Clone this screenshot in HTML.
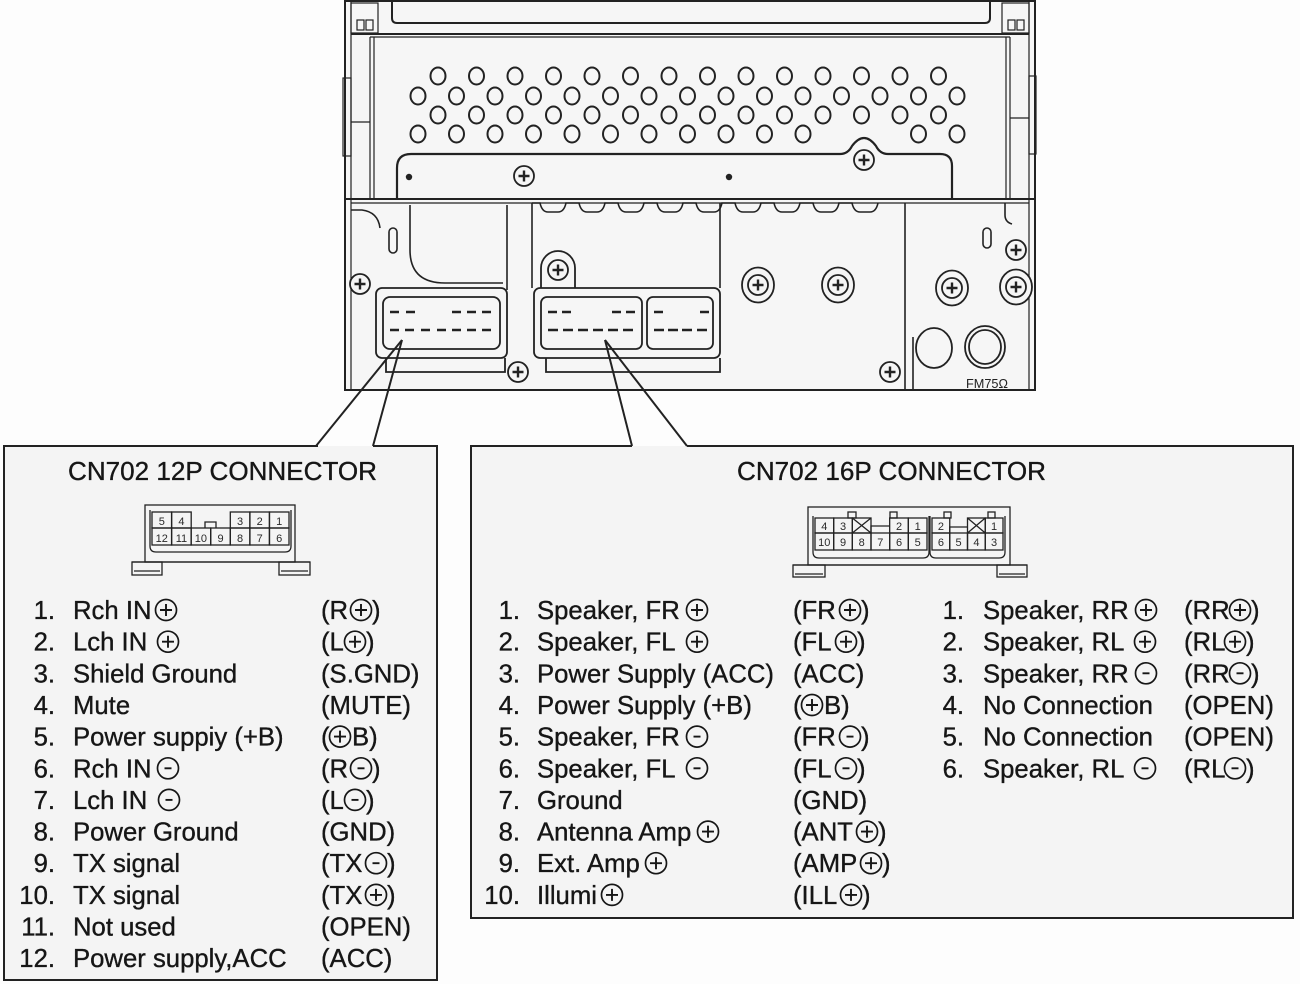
<!DOCTYPE html>
<html><head><meta charset="utf-8"><style>
html,body{margin:0;padding:0;background:#fdfdfd;}
svg{display:block;}
.t{font-family:"Liberation Sans",Arial,sans-serif;font-size:25.7px;fill:#161616;stroke:#161616;stroke-width:0.35px;}
.n{font-family:"Liberation Sans",Arial,sans-serif;font-size:11px;fill:#2a2a2a;text-anchor:middle;}
.k{stroke:#222;fill:none;}
</style></head><body>
<svg width="1300" height="984" viewBox="0 0 1300 984" xmlns="http://www.w3.org/2000/svg">
<defs>
<g id="s1"><circle r="10" fill="#f5f5f5" stroke="#222" stroke-width="1.8"/><path d="M-5.5 0H5.5M0 -5.5V5.5" stroke="#222" stroke-width="2.4"/></g>
<g id="s2"><ellipse rx="16" ry="17.5" fill="#f5f5f5" stroke="#222" stroke-width="1.8"/><use href="#s1"/></g>
<ellipse id="h" rx="7.5" ry="8.5" fill="none" stroke="#222" stroke-width="2"/>
<g id="cp"><circle r="10.5" fill="none" stroke="#161616" stroke-width="1.7"/><path d="M-6 0H6M0 -6V6" stroke="#161616" stroke-width="1.9"/></g>
<g id="cm"><circle r="10.5" fill="none" stroke="#161616" stroke-width="1.7"/><path d="M-3.5 0H3.5" stroke="#161616" stroke-width="1.9"/></g>
</defs>

<!-- ===== HEAD UNIT ===== -->
<rect x="345" y="0" width="690" height="390" fill="#f6f6f6"/>
<g class="k" stroke-width="2">
<line x1="345" y1="0" x2="345" y2="391"/>
<line x1="1035" y1="0" x2="1035" y2="391"/>
<line x1="345" y1="390" x2="1035" y2="390"/>
<line x1="345" y1="1" x2="1035" y2="1"/>
<path d="M392 1V18Q392 23 397 23H985Q990 23 990 18V1"/>
<line x1="351" y1="34" x2="1029" y2="34"/>
<line x1="345" y1="199" x2="1035" y2="199"/>
</g>
<g class="k" stroke-width="1.2">
<line x1="351" y1="0" x2="351" y2="390"/>
<line x1="1029" y1="0" x2="1029" y2="390"/>
<rect x="351" y="3" width="27" height="30"/>
<rect x="1002" y="3" width="27" height="30"/>
<rect x="357" y="20" width="7" height="10"/><rect x="366" y="20" width="7" height="10"/>
<rect x="1008" y="20" width="7" height="10"/><rect x="1017" y="20" width="7" height="10"/>
<line x1="370" y1="37" x2="1010" y2="37"/>
<line x1="370" y1="37" x2="370" y2="198"/><line x1="374" y1="37" x2="374" y2="198"/>
<line x1="1010" y1="37" x2="1010" y2="198"/><line x1="1006" y1="37" x2="1006" y2="198"/>
<rect x="343" y="78" width="8" height="78"/>
<line x1="351" y1="122" x2="370" y2="122"/>
<rect x="1029" y="76" width="7" height="78"/>
<line x1="1010" y1="118" x2="1029" y2="118"/>
<line x1="351" y1="203" x2="1029" y2="203"/>
</g>

<!-- holes -->
<g>
<use href="#h" x="438" y="76"/><use href="#h" x="476.5" y="76"/><use href="#h" x="515" y="76"/><use href="#h" x="553.5" y="76"/><use href="#h" x="592" y="76"/><use href="#h" x="630.5" y="76"/><use href="#h" x="669" y="76"/><use href="#h" x="707.5" y="76"/><use href="#h" x="746" y="76"/><use href="#h" x="784.5" y="76"/><use href="#h" x="823" y="76"/><use href="#h" x="861.5" y="76"/><use href="#h" x="900" y="76"/><use href="#h" x="938.5" y="76"/>
<use href="#h" x="418" y="96"/><use href="#h" x="456.5" y="96"/><use href="#h" x="495" y="96"/><use href="#h" x="533.5" y="96"/><use href="#h" x="572" y="96"/><use href="#h" x="610.5" y="96"/><use href="#h" x="649" y="96"/><use href="#h" x="687.5" y="96"/><use href="#h" x="726" y="96"/><use href="#h" x="764.5" y="96"/><use href="#h" x="803" y="96"/><use href="#h" x="841.5" y="96"/><use href="#h" x="880" y="96"/><use href="#h" x="918.5" y="96"/><use href="#h" x="957" y="96"/>
<use href="#h" x="438" y="115"/><use href="#h" x="476.5" y="115"/><use href="#h" x="515" y="115"/><use href="#h" x="553.5" y="115"/><use href="#h" x="592" y="115"/><use href="#h" x="630.5" y="115"/><use href="#h" x="669" y="115"/><use href="#h" x="707.5" y="115"/><use href="#h" x="746" y="115"/><use href="#h" x="784.5" y="115"/><use href="#h" x="823" y="115"/><use href="#h" x="861.5" y="115"/><use href="#h" x="900" y="115"/><use href="#h" x="938.5" y="115"/>
<use href="#h" x="418" y="134"/><use href="#h" x="456.5" y="134"/><use href="#h" x="495" y="134"/><use href="#h" x="533.5" y="134"/><use href="#h" x="572" y="134"/><use href="#h" x="610.5" y="134"/><use href="#h" x="649" y="134"/><use href="#h" x="687.5" y="134"/><use href="#h" x="726" y="134"/><use href="#h" x="764.5" y="134"/><use href="#h" x="803" y="134"/><use href="#h" x="918.5" y="134"/><use href="#h" x="957" y="134"/>
</g>

<!-- plate -->
<path class="k" stroke-width="2.2" d="M397 198V168Q397 154 411 154H840Q848 154 852 146Q864 130 876 146Q880 154 888 154H940Q952 154 952 166V198"/>
<use href="#s1" x="524" y="176"/>
<use href="#s1" x="864" y="160"/>
<circle cx="409" cy="177" r="3.2" fill="#222"/>
<circle cx="729" cy="177" r="3.2" fill="#222"/>

<!-- lower section -->
<path class="k" stroke-width="1.6" d="M532 203H540Q542 212 548 212H558Q564 212 566 203H579Q581 212 587 212H597Q603 212 605 203H618Q620 212 626 212H636Q642 212 644 203H657Q659 212 665 212H675Q681 212 683 203H696Q698 212 704 212H714Q720 212 722 203H735Q737 212 743 212H753Q759 212 761 203H774Q776 212 782 212H792Q798 212 800 203H813Q815 212 821 212H831Q837 212 839 203H852Q854 212 860 212H870Q876 212 878 203"/>
<g class="k" stroke-width="1.6">
<line x1="507" y1="205" x2="507" y2="290"/>
<line x1="532" y1="203" x2="532" y2="288"/>
<line x1="720" y1="203" x2="720" y2="288"/>
<line x1="905" y1="203" x2="905" y2="390"/>
<line x1="913" y1="337" x2="913" y2="390"/>
<path d="M1005 203V215Q1005 222 1012 224"/>
<path d="M410 205V250Q410 283 445 283H503"/>
<path d="M351 210H362Q378 212 380 228"/>
<rect x="389" y="228" width="8" height="25" rx="4"/>
<rect x="983" y="228" width="8" height="20" rx="4"/>
</g>
<use href="#s1" x="360" y="284"/>

<!-- left connector -->
<g class="k" stroke-width="1.8">
<path d="M386 358V372H505V358"/>
<rect x="376" y="288" width="131" height="70" rx="6" fill="#f6f6f6"/>
<rect x="383" y="297" width="117" height="52" rx="7"/>
</g>
<g stroke="#222" stroke-width="2.6">
<path d="M390 312h9M406 312h9M452 312h9M467 312h9M482 312h9"/>
<path d="M390 330h9M405 330h9M421 330h9M437 330h9M452 330h9M467 330h9M482 330h9"/>
</g>
<use href="#s1" x="518" y="372"/>

<!-- middle connector -->
<path class="k" stroke-width="1.8" d="M541 288V268A17 17 0 0 1 575 268V288"/>
<use href="#s1" x="558" y="270"/>
<g class="k" stroke-width="1.8">
<path d="M546 358V372H720V358"/>
<rect x="534" y="288" width="186" height="70" rx="6" fill="#f6f6f6"/>
<rect x="541" y="297" width="101" height="52" rx="6"/>
<rect x="647" y="297" width="66" height="52" rx="6"/>
</g>
<g stroke="#222" stroke-width="2.6">
<path d="M548 312h9M562 312h9M612 312h9M626 312h9M654 312h9M700 312h9"/>
<path d="M548 330h10M563 330h10M578 330h10M593 330h10M608 330h10M623 330h10M654 330h10M668 330h10M682 330h10M697 330h10"/>
</g>

<use href="#s2" x="758" y="285"/>
<use href="#s2" x="838" y="285"/>
<use href="#s2" x="952" y="288"/>
<use href="#s1" x="1016" y="250"/>
<use href="#s2" x="1016" y="287"/>
<use href="#s1" x="890" y="372"/>
<g class="k" stroke-width="1.8">
<ellipse cx="934" cy="348" rx="18" ry="20"/>
<ellipse cx="985" cy="347" rx="20" ry="21"/>
<ellipse cx="985" cy="347" rx="16" ry="17"/>
</g>
<text x="966" y="388" font-family="Liberation Sans, Arial, sans-serif" font-size="13" fill="#222" textLength="42" lengthAdjust="spacingAndGlyphs">FM75Ω</text>

<!-- ===== BOXES ===== -->
<rect x="4" y="446" width="433" height="534" fill="#f4f4f4"/>
<rect x="471" y="446" width="822" height="472" fill="#f4f4f4"/>
<g class="k" stroke-width="2">
<path d="M318 446H4V980H437V446H373"/>
<line x1="316" y1="446" x2="402" y2="340"/>
<line x1="373" y1="446" x2="402" y2="340"/>
<path d="M632 446H471V918H1293V446H687"/>
<line x1="632" y1="446" x2="605" y2="340"/>
<line x1="687" y1="446" x2="605" y2="340"/>
</g>

<text class="t" x="68" y="480" font-size="26" textLength="309" lengthAdjust="spacingAndGlyphs">CN702 12P CONNECTOR</text>
<text class="t" x="737" y="480" font-size="26" textLength="309" lengthAdjust="spacingAndGlyphs">CN702 16P CONNECTOR</text>

<!-- 12P icon -->
<g class="k" stroke-width="1.3">
<rect x="145" y="505" width="150" height="57"/>
<line x1="132" y1="562" x2="310" y2="562"/>
<rect x="132" y="562" width="30" height="13"/><line x1="134" y1="571" x2="160" y2="571"/>
<rect x="279" y="562" width="31" height="13"/><line x1="281" y1="571" x2="308" y2="571"/>
<path d="M150 510V546Q150 552 156 552H285Q291 552 291 546V510"/>
<rect x="152" y="512" width="19.6" height="16"/><rect x="171.6" y="512" width="19.6" height="16"/>
<rect x="230.3" y="512" width="19.6" height="16"/><rect x="249.9" y="512" width="19.6" height="16"/><rect x="269.4" y="512" width="19.6" height="16"/>
<rect x="152" y="528" width="19.6" height="17"/><rect x="171.6" y="528" width="19.6" height="17"/><rect x="191.1" y="528" width="19.6" height="17"/><rect x="210.7" y="528" width="19.6" height="17"/><rect x="230.3" y="528" width="19.6" height="17"/><rect x="249.9" y="528" width="19.6" height="17"/><rect x="269.4" y="528" width="19.6" height="17"/>
<path d="M205 528V522H216V528"/>
</g>
<g class="n">
<text x="161.8" y="525">5</text><text x="181.4" y="525">4</text><text x="240.1" y="525">3</text><text x="259.7" y="525">2</text><text x="279.2" y="525">1</text>
<text x="161.8" y="542">12</text><text x="181.4" y="542">11</text><text x="200.9" y="542">10</text><text x="220.5" y="542">9</text><text x="240.1" y="542">8</text><text x="259.7" y="542">7</text><text x="279.2" y="542">6</text>
</g>

<!-- 16P icon -->
<g class="k" stroke-width="1.3">
<rect x="808" y="507" width="202" height="58"/>
<line x1="793" y1="565" x2="1027" y2="565"/>
<rect x="793" y="565" width="32" height="12"/><line x1="795" y1="574" x2="823" y2="574"/>
<rect x="997" y="565" width="30" height="12"/><line x1="999" y1="574" x2="1025" y2="574"/>
<path d="M813 516V552Q813 558 819 558H923Q929 558 929 552V516"/>
<path d="M930 516V552Q930 558 936 558H999Q1005 558 1005 552V516"/>
<rect x="815" y="518" width="18.67" height="15"/><rect x="833.67" y="518" width="18.67" height="15"/><rect x="852.33" y="518" width="18.67" height="15"/>
<rect x="889.67" y="518" width="18.67" height="15"/><rect x="908.33" y="518" width="18.67" height="15"/>
<path d="M871 533V526H889.67"/>
<rect x="815" y="533" width="18.67" height="17"/><rect x="833.67" y="533" width="18.67" height="17"/><rect x="852.33" y="533" width="18.67" height="17"/><rect x="871" y="533" width="18.67" height="17"/><rect x="889.67" y="533" width="18.67" height="17"/><rect x="908.33" y="533" width="18.67" height="17"/>
<path d="M852.33 518L871 533M871 518L852.33 533"/>
<rect x="932" y="518" width="17.75" height="15"/><rect x="967.5" y="518" width="17.75" height="15"/><rect x="985.25" y="518" width="17.75" height="15"/>
<path d="M949.75 533V527H967.5"/>
<path d="M967.5 518L985.25 533M985.25 518L967.5 533"/>
<rect x="932" y="533" width="17.75" height="17"/><rect x="949.75" y="533" width="17.75" height="17"/><rect x="967.5" y="533" width="17.75" height="17"/><rect x="985.25" y="533" width="17.75" height="17"/>
<rect x="848" y="512" width="8" height="6"/><rect x="890" y="512" width="7" height="6"/><rect x="944" y="512" width="7" height="6"/><rect x="988" y="512" width="7" height="6"/>
</g>
<g class="n">
<text x="824.3" y="530">4</text><text x="843" y="530">3</text><text x="899" y="530">2</text><text x="917.7" y="530">1</text>
<text x="824.3" y="546">10</text><text x="843" y="546">9</text><text x="861.7" y="546">8</text><text x="880.3" y="546">7</text><text x="899" y="546">6</text><text x="917.7" y="546">5</text>
<text x="940.9" y="530">2</text><text x="994.1" y="530">1</text>
<text x="940.9" y="546">6</text><text x="958.6" y="546">5</text><text x="976.4" y="546">4</text><text x="994.1" y="546">3</text>
</g>

<!-- ===== LEFT LIST ===== -->
<g class="t" text-anchor="end">
<text x="55" y="619">1.</text><text x="55" y="650.7">2.</text><text x="55" y="682.3">3.</text><text x="55" y="714">4.</text><text x="55" y="745.6">5.</text><text x="55" y="777.3">6.</text><text x="55" y="808.9">7.</text><text x="55" y="840.6">8.</text><text x="55" y="872.2">9.</text><text x="55" y="903.9">10.</text><text x="55" y="935.5">11.</text><text x="55" y="967.2">12.</text>
</g>
<g class="t">
<text x="73" y="619">Rch IN</text>
<text x="73" y="650.7">Lch IN</text>
<text x="73" y="682.3">Shield Ground</text>
<text x="73" y="714">Mute</text>
<text x="73" y="745.6">Power suppiy (+B)</text>
<text x="73" y="777.3">Rch IN</text>
<text x="73" y="808.9">Lch IN</text>
<text x="73" y="840.6">Power Ground</text>
<text x="73" y="872.2">TX signal</text>
<text x="73" y="903.9">TX signal</text>
<text x="73" y="935.5">Not used</text>
<text x="73" y="967.2">Power supply,ACC</text>

<text x="321" y="619">(R</text><text x="372" y="619">)</text>
<text x="321" y="650.7">(L</text><text x="366" y="650.7">)</text>
<text x="321" y="682.3">(S.GND)</text>
<text x="321" y="714">(MUTE)</text>
<text x="321" y="745.6">(</text><text x="352" y="745.6">B)</text>
<text x="321" y="777.3">(R</text><text x="372" y="777.3">)</text>
<text x="321" y="808.9">(L</text><text x="366" y="808.9">)</text>
<text x="321" y="840.6">(GND)</text>
<text x="321" y="872.2">(TX</text><text x="387" y="872.2">)</text>
<text x="321" y="903.9">(TX</text><text x="387" y="903.9">)</text>
<text x="321" y="935.5">(OPEN)</text>
<text x="321" y="967.2">(ACC)</text>
</g>
<use href="#cp" x="166" y="610"/><use href="#cp" x="361" y="610"/>
<use href="#cp" x="168" y="641.7"/><use href="#cp" x="355" y="641.7"/>
<use href="#cp" x="340" y="736.6"/>
<use href="#cm" x="168" y="768.3"/><use href="#cm" x="361" y="768.3"/>
<use href="#cm" x="169" y="799.9"/><use href="#cm" x="355" y="799.9"/>
<use href="#cm" x="376" y="863.2"/>
<use href="#cp" x="376" y="894.9"/>

<!-- ===== MIDDLE LIST ===== -->
<g class="t" text-anchor="end">
<text x="520" y="619">1.</text><text x="520" y="650.7">2.</text><text x="520" y="682.3">3.</text><text x="520" y="714">4.</text><text x="520" y="745.6">5.</text><text x="520" y="777.3">6.</text><text x="520" y="808.9">7.</text><text x="520" y="840.6">8.</text><text x="520" y="872.2">9.</text><text x="520" y="903.9">10.</text>
</g>
<g class="t">
<text x="537" y="619">Speaker, FR</text>
<text x="537" y="650.7">Speaker, FL</text>
<text x="537" y="682.3">Power Supply (ACC)</text>
<text x="537" y="714">Power Supply (+B)</text>
<text x="537" y="745.6">Speaker, FR</text>
<text x="537" y="777.3">Speaker, FL</text>
<text x="537" y="808.9">Ground</text>
<text x="537" y="840.6">Antenna Amp</text>
<text x="537" y="872.2">Ext. Amp</text>
<text x="537" y="903.9">Illumi</text>

<text x="793" y="619">(FR</text><text x="861" y="619">)</text>
<text x="793" y="650.7">(FL</text><text x="857" y="650.7">)</text>
<text x="793" y="682.3">(ACC)</text>
<text x="793" y="714">(</text><text x="824" y="714">B)</text>
<text x="793" y="745.6">(FR</text><text x="861" y="745.6">)</text>
<text x="793" y="777.3">(FL</text><text x="857" y="777.3">)</text>
<text x="793" y="808.9">(GND)</text>
<text x="793" y="840.6">(ANT</text><text x="878" y="840.6">)</text>
<text x="793" y="872.2">(AMP</text><text x="882" y="872.2">)</text>
<text x="793" y="903.9">(ILL</text><text x="862" y="903.9">)</text>
</g>
<use href="#cp" x="697" y="610"/><use href="#cp" x="850" y="610"/>
<use href="#cp" x="697" y="641.7"/><use href="#cp" x="846" y="641.7"/>
<use href="#cp" x="812" y="705"/>
<use href="#cm" x="697" y="736.6"/><use href="#cm" x="850" y="736.6"/>
<use href="#cm" x="697" y="768.3"/><use href="#cm" x="846" y="768.3"/>
<use href="#cp" x="708" y="831.6"/><use href="#cp" x="867" y="831.6"/>
<use href="#cp" x="656" y="863.2"/><use href="#cp" x="871" y="863.2"/>
<use href="#cp" x="612" y="894.9"/><use href="#cp" x="851" y="894.9"/>

<!-- ===== RIGHT LIST ===== -->
<g class="t" text-anchor="end">
<text x="964" y="619">1.</text><text x="964" y="650.7">2.</text><text x="964" y="682.3">3.</text><text x="964" y="714">4.</text><text x="964" y="745.6">5.</text><text x="964" y="777.3">6.</text>
</g>
<g class="t">
<text x="983" y="619">Speaker, RR</text>
<text x="983" y="650.7">Speaker, RL</text>
<text x="983" y="682.3">Speaker, RR</text>
<text x="983" y="714">No Connection</text>
<text x="983" y="745.6">No Connection</text>
<text x="983" y="777.3">Speaker, RL</text>

<text x="1184" y="619">(RR</text><text x="1251" y="619">)</text>
<text x="1184" y="650.7">(RL</text><text x="1246" y="650.7">)</text>
<text x="1184" y="682.3">(RR</text><text x="1251" y="682.3">)</text>
<text x="1184" y="714">(OPEN)</text>
<text x="1184" y="745.6">(OPEN)</text>
<text x="1184" y="777.3">(RL</text><text x="1246" y="777.3">)</text>
</g>
<use href="#cp" x="1146" y="610"/><use href="#cp" x="1240" y="610"/>
<use href="#cp" x="1145" y="641.7"/><use href="#cp" x="1235" y="641.7"/>
<use href="#cm" x="1146" y="673.3"/><use href="#cm" x="1240" y="673.3"/>
<use href="#cm" x="1145" y="768.3"/><use href="#cm" x="1235" y="768.3"/>
</svg>
</body></html>
